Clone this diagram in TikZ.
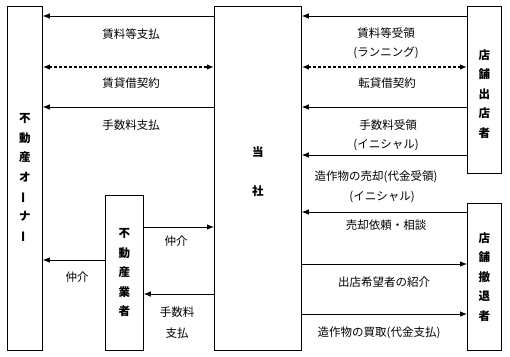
\documentclass[tikz,border=0pt]{standalone}
\usepackage{fontspec}
\setmainfont{Noto Sans CJK JP}
\usetikzlibrary{arrows.meta,positioning}
\newcommand{\vbar}{\rotatebox[origin=c]{90}{ー}}

\begin{document}
\begin{tikzpicture}[x=1pt,y=-1pt,>={Latex[length=7pt,width=5.5pt]},
    every node/.style={font=\fontsize{11.5}{19}\selectfont},
    party/.style={draw, line width=0.8pt, anchor=north west, inner sep=0pt, align=center,
        font=\bfseries\fontsize{11.5}{19.5}\selectfont},
    flow/.style={->, line width=0.8pt},
    deal/.style={<->, line width=2.6pt, dash pattern=on 2.6pt off 2.4pt}]
        \useasboundingbox (0,0) rectangle (510,356);

        % parties
        \node[party, minimum width=35pt, minimum height=344pt] (owner) at (7,6) {不\\動\\産\\オ\\\vbar\\ナ\\\vbar};
        \node[party, minimum width=87pt, minimum height=344pt] (tosha) at (214,6) {};
        \node[party, minimum width=34pt, minimum height=167pt] (shop) at (467,6) {};
        \node[party, minimum width=34pt, minimum height=147pt] (leave) at (467,203) {店\\舗\\撤\\退\\者};
        \node[party, minimum width=38pt, minimum height=155pt] (broker) at (105,195) {不\\動\\産\\業\\者};
        \node[align=center, font=\bfseries\fontsize{11.5}{19.5}\selectfont] (toshatext) at ([yshift=7pt]tosha.center) {当\\[19pt]社};
        \node[align=center, font=\bfseries\fontsize{11.5}{19.5}\selectfont] (shoptext) at ([yshift=-4pt]shop.center) {店\\舗\\出\\店\\者};

        % flows between the parties
        \foreach \from/\to/\y in {tosha.west/owner.east/16, tosha.west/owner.east/107,
                shop.west/tosha.east/16, shop.west/tosha.east/107, shop.west/tosha.east/155,
                leave.west/tosha.east/212, tosha.east/leave.west/264, tosha.east/leave.west/314,
                broker.east/tosha.west/227, tosha.west/broker.east/294, broker.west/owner.east/260} {
            \draw[flow] (\from |- 0,\y) -- (\to |- 0,\y);
        }
        \draw[deal] (owner.east |- 0,67) -- (tosha.west |- 0,67);
        \draw[deal] (tosha.east |- 0,67) -- (shop.west |- 0,67);

        % labels
        \foreach \x/\y/\lab in {131/34/賃料等支払, 131/83/賃貸借契約, 131/125/手数料支払,
                386/33/賃料等受領, 386/53/(ランニング), 387/83/転貸借契約,
                388/125/手数料受領, 386/145/(イニシャル),
                376/177/造作物の売却(代金受領), 382/197/(イニシャル),
                386/225/売却依頼・相談, 384/282/出店希望者の紹介, 379/333/造作物の買取(代金支払),
                176/241/仲介, 177/312/手数料, 177/333/支払, 77/277/仲介} {
            \node (lab) at (\x,\y) {\lab};
        }
    \end{tikzpicture}
\end{document}
